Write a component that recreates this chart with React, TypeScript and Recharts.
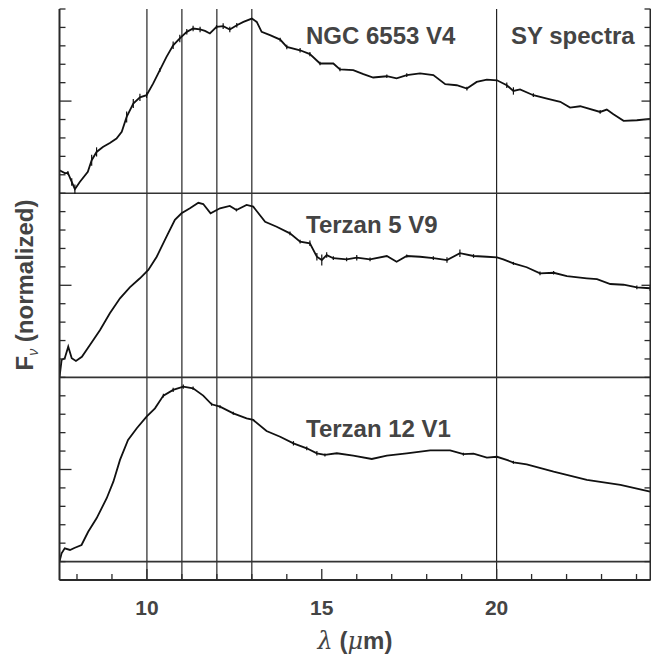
import React from 'react';
import { LineChart, Line, XAxis, YAxis, ReferenceLine, Label, ErrorBar } from 'recharts';

// ---------- data (wavelength in micron, flux in panel units 0..10) ----------
const ngcWave = [7.5, 7.65, 7.74, 7.85, 7.94, 8.08, 8.31, 8.42, 8.56, 8.74, 8.94, 9.13, 9.28, 9.42, 9.61, 9.8, 9.99, 10.18, 10.37, 10.56, 10.75, 10.94, 11.14, 11.32, 11.52, 11.66, 11.8, 11.99, 12.18, 12.37, 12.57, 12.76, 13.0, 13.14, 13.28, 13.52, 13.81, 14.0, 14.38, 14.66, 14.95, 15.33, 15.52, 15.9, 16.19, 16.47, 16.86, 17.14, 17.43, 17.81, 18.19, 18.53, 18.86, 19.15, 19.43, 19.72, 20.01, 20.29, 20.48, 20.67, 21.05, 21.44, 21.82, 22.1, 22.39, 22.96, 23.15, 23.34, 23.63, 24.01, 24.39];
const ngcFlux = [1.25, 1.09, 1.1, 0.61, 0.22, 0.61, 1.16, 1.79, 2.24, 2.51, 2.73, 2.97, 3.33, 4.14, 4.87, 5.2, 5.32, 5.96, 6.68, 7.4, 8.03, 8.4, 8.76, 8.94, 8.89, 8.81, 8.67, 9.03, 9.07, 8.89, 9.12, 9.3, 9.48, 9.3, 8.76, 8.58, 8.34, 7.94, 7.76, 7.55, 7.04, 7.04, 6.72, 6.68, 6.46, 6.28, 6.35, 6.23, 6.41, 6.5, 6.41, 5.92, 5.86, 5.68, 6.04, 6.17, 6.13, 5.86, 5.55, 5.63, 5.32, 5.14, 4.96, 4.65, 4.72, 4.41, 4.54, 4.29, 3.93, 3.96, 4.03];
const ngcErr = [0, 0, 0.1, 0.2, 0.25, 0, 0, 0.3, 0.25, 0, 0, 0, 0, 0.3, 0.25, 0.2, 0.15, 0, 0.1, 0, 0.2, 0.2, 0.15, 0.15, 0.15, 0, 0, 0.1, 0.15, 0.15, 0.12, 0, 0, 0, 0, 0, 0.1, 0.12, 0.12, 0.12, 0.1, 0, 0.1, 0, 0, 0, 0.1, 0, 0.1, 0, 0, 0, 0, 0.1, 0, 0, 0, 0.15, 0.2, 0, 0.1, 0, 0, 0, 0, 0.1, 0, 0, 0, 0, 0];

const ter5Wave = [7.5, 7.56, 7.65, 7.75, 7.85, 7.97, 8.14, 8.37, 8.66, 8.94, 9.23, 9.51, 9.8, 10.04, 10.28, 10.56, 10.8, 10.99, 11.23, 11.47, 11.61, 11.82, 12.09, 12.37, 12.56, 12.85, 13.04, 13.38, 13.71, 14.09, 14.38, 14.66, 14.86, 15.0, 15.14, 15.33, 15.71, 16.0, 16.38, 16.86, 17.14, 17.43, 17.81, 18.19, 18.58, 18.95, 19.34, 19.72, 20.01, 20.19, 20.48, 20.86, 21.24, 21.63, 22.01, 22.58, 22.87, 23.25, 23.63, 24.01, 24.39];
const ter5Flux = [0.0, 0.94, 1.04, 1.67, 1.04, 0.89, 1.12, 1.76, 2.57, 3.48, 4.29, 4.89, 5.38, 5.83, 6.55, 7.64, 8.55, 8.91, 9.18, 9.48, 9.41, 8.91, 9.18, 9.31, 9.09, 9.36, 9.27, 8.45, 8.18, 7.82, 7.37, 7.28, 6.55, 6.37, 6.64, 6.47, 6.41, 6.5, 6.41, 6.59, 6.28, 6.59, 6.55, 6.47, 6.37, 6.74, 6.59, 6.55, 6.52, 6.41, 6.19, 5.98, 5.65, 5.68, 5.5, 5.38, 5.33, 5.07, 5.03, 4.89, 4.84];
const ter5Err = [0, 0, 0, 0, 0, 0, 0, 0, 0, 0, 0, 0, 0, 0, 0, 0, 0, 0, 0, 0, 0, 0, 0, 0, 0.08, 0, 0, 0, 0, 0.1, 0.1, 0.15, 0.2, 0.3, 0.15, 0.1, 0.1, 0.15, 0.1, 0, 0, 0.08, 0, 0.1, 0.15, 0.2, 0.1, 0, 0, 0, 0.08, 0, 0.1, 0.1, 0, 0, 0, 0, 0, 0.1, 0.15];

const ter12Wave = [7.5, 7.56, 7.65, 7.8, 7.94, 8.13, 8.32, 8.56, 8.85, 9.04, 9.23, 9.46, 9.71, 9.99, 10.23, 10.47, 10.75, 11.04, 11.32, 11.61, 11.85, 12.09, 12.47, 12.85, 13.04, 13.42, 13.81, 14.19, 14.57, 14.86, 15.09, 15.43, 15.9, 16.43, 16.86, 17.43, 18.1, 18.67, 19.05, 19.34, 19.72, 20.01, 20.29, 20.48, 20.86, 21.63, 22.58, 23.54, 24.39];
const ter12Flux = [0.0, 0.45, 0.72, 0.63, 0.75, 0.9, 1.62, 2.35, 3.44, 4.34, 5.52, 6.6, 7.24, 7.87, 8.32, 9.01, 9.32, 9.5, 9.41, 9.01, 8.54, 8.41, 8.05, 7.78, 7.69, 7.09, 6.78, 6.42, 6.15, 5.88, 5.79, 5.88, 5.75, 5.57, 5.75, 5.88, 6.04, 6.04, 5.83, 5.86, 5.64, 5.69, 5.52, 5.39, 5.28, 4.88, 4.43, 4.16, 3.8];
const ter12Err = [0, 0, 0, 0, 0, 0, 0, 0, 0, 0, 0, 0, 0, 0, 0, 0.1, 0.12, 0.12, 0.1, 0, 0.08, 0.08, 0.08, 0, 0, 0, 0, 0.12, 0.1, 0.12, 0.08, 0, 0, 0, 0, 0, 0, 0, 0.08, 0, 0, 0, 0, 0.08, 0, 0, 0, 0, 0];

const xTicks = [8, 9, 10, 11, 12, 13, 14, 15, 16, 17, 18, 19, 20, 21, 22, 23, 24];
const xLabelTicks = [10, 15, 20];
const featureLines = [10, 11, 12, 13, 20];
const yTicks = Array.from({ length: 32 }, (_, i) => i);
const yMajorTicks = [6, 16, 26];
const panelBounds = [1, 11, 21];

const panelLabels = ['NGC 6553 V4', 'Terzan 5 V9', 'Terzan 12 V1'];
const cornerLabel = 'SY spectra';

const toRows = (w: number[], f: number[], e: number[]) => w.map((wave, i) => ({ wave, flux: f[i], err: e[i] }));
const ngcData = toRows(ngcWave, ngcFlux, ngcErr);
const ter5Data = toRows(ter5Wave, ter5Flux, ter5Err);
const ter12Data = toRows(ter12Wave, ter12Flux, ter12Err);

const FRAME = '#2a2a2a';
const TEXT = '#444444';
const FONT = '"Liberation Sans", Arial, Helvetica, sans-serif';

const BottomTick = (props: any) => {
  const { x, y, payload } = props;
  const major = xLabelTicks.includes(payload.value);
  return (
    <g>
      <line x1={x} x2={x} y1={y} y2={y - (major ? 11 : 6)} stroke={FRAME} strokeWidth={1.3} />
      {major && (
        <text x={x} y={y + 35} textAnchor="middle" fontFamily={FONT} fontWeight="bold" fontSize={21} fill={TEXT}>
          {payload.value}
        </text>
      )}
    </g>
  );
};

const TopTick = (props: any) => {
  const { x, y, payload } = props;
  const major = xLabelTicks.includes(payload.value);
  return <line x1={x} x2={x} y1={y} y2={y + (major ? 9 : 6)} stroke={FRAME} strokeWidth={1.3} />;
};

const LeftTick = (props: any) => {
  const { x, y, payload } = props;
  const major = yMajorTicks.includes(payload.value);
  return <line x1={x} x2={x + (major ? 12 : 6)} y1={y} y2={y} stroke={FRAME} strokeWidth={1.3} />;
};

const RightTick = (props: any) => {
  const { x, y, payload } = props;
  const major = yMajorTicks.includes(payload.value);
  return <line x1={x} x2={x - (major ? 9 : 6)} y1={y} y2={y} stroke={FRAME} strokeWidth={1.3} />;
};

const XTitle = (props: any) => {
  const { viewBox } = props;
  const cx = viewBox.x + viewBox.width / 2;
  const y = viewBox.y + 69;
  return (
    <text x={cx} y={y} textAnchor="middle" fontFamily={FONT} fontSize={24} fill={TEXT}>
      <tspan fontStyle="italic" fontFamily='"DejaVu Serif", serif'>λ</tspan>
      <tspan fontWeight="bold"> (</tspan>
      <tspan fontStyle="italic" fontFamily='"DejaVu Serif", serif'>μ</tspan>
      <tspan fontWeight="bold">m)</tspan>
    </text>
  );
};

const YTitle = () => {
  return (
    <text x={33} y={285} transform="rotate(-90 33 285)" textAnchor="middle" fontFamily={FONT} fontWeight="bold" fontSize={24} fill={TEXT}>
      <tspan>F</tspan>
      <tspan fontSize={14} fontStyle="italic" fontWeight="normal" dy={5}>ν</tspan>
      <tspan dy={-5}> (normalized)</tspan>
    </text>
  );
};

const labelStyle = { fontFamily: FONT, fontWeight: 'bold' as const, fontSize: 24, fill: TEXT };

export default function App() {
  return (
    <div style={{ position: 'absolute', left: 0, top: 0, width: 651, height: 661, background: '#fff' }}>
      <LineChart width={651} height={661} margin={{ top: 9, right: 0, bottom: 0, left: 0 }}>
        <XAxis
          xAxisId="b"
          dataKey="wave"
          type="number"
          domain={[7.5, 24.4]}
          ticks={xTicks}
          allowDataOverflow
          interval={0}
          height={81}
          tickSize={0}
          tickMargin={0}
          tickLine={false}
          tick={<BottomTick />}
          axisLine={{ stroke: FRAME, strokeWidth: 2 }}
        >
          <Label content={<XTitle />} />
        </XAxis>
        <XAxis
          xAxisId="t"
          orientation="top"
          dataKey="wave"
          type="number"
          domain={[7.5, 24.4]}
          ticks={xTicks}
          allowDataOverflow
          interval={0}
          height={0}
          tickSize={0}
          tickMargin={0}
          tickLine={false}
          tick={<TopTick />}
          axisLine={{ stroke: FRAME, strokeWidth: 2 }}
        />
        <YAxis
          yAxisId="frame"
          type="number"
          domain={[0, 31]}
          ticks={yTicks}
          interval={0}
          allowDataOverflow
          width={59.5}
          tickSize={0}
          tickMargin={0}
          tickLine={false}
          tick={<LeftTick />}
          axisLine={{ stroke: FRAME, strokeWidth: 2 }}
        />
        <YAxis
          yAxisId="frameR"
          orientation="right"
          type="number"
          domain={[0, 31]}
          ticks={yTicks}
          interval={0}
          allowDataOverflow
          width={0.5}
          tickSize={0}
          tickMargin={0}
          tickLine={false}
          tick={<RightTick />}
          axisLine={{ stroke: FRAME, strokeWidth: 2 }}
        />
        <YAxis yAxisId="p1" hide type="number" domain={[-21, 10]} allowDataOverflow />
        <YAxis yAxisId="p2" hide type="number" domain={[-11, 20]} allowDataOverflow />
        <YAxis yAxisId="p3" hide type="number" domain={[-1, 30]} allowDataOverflow />

        {featureLines.map((v) => (
          <ReferenceLine key={'v' + v} xAxisId="b" yAxisId="frame" x={v} stroke="#111" strokeWidth={1.1} />
        ))}
        {panelBounds.map((v) => (
          <ReferenceLine key={'h' + v} xAxisId="b" yAxisId="frame" y={v} stroke="#333" strokeWidth={1.6} />
        ))}

        <Line xAxisId="b" yAxisId="p1" data={ngcData} dataKey="flux" type="linear" stroke="#111" strokeWidth={1.8} dot={false} isAnimationActive={false}>
          <ErrorBar dataKey="err" width={0} stroke="#111" strokeWidth={1.2} direction="y" />
        </Line>
        <Line xAxisId="b" yAxisId="p2" data={ter5Data} dataKey="flux" type="linear" stroke="#111" strokeWidth={1.8} dot={false} isAnimationActive={false}>
          <ErrorBar dataKey="err" width={0} stroke="#111" strokeWidth={1.2} direction="y" />
        </Line>
        <Line xAxisId="b" yAxisId="p3" data={ter12Data} dataKey="flux" type="linear" stroke="#111" strokeWidth={1.8} dot={false} isAnimationActive={false}>
          <ErrorBar dataKey="err" width={0} stroke="#111" strokeWidth={1.2} direction="y" />
        </Line>

        <text x={306} y={44} {...labelStyle}>{panelLabels[0]}</text>
        <text x={511} y={44} {...labelStyle}>{cornerLabel}</text>
        <text x={306} y={233} {...labelStyle}>{panelLabels[1]}</text>
        <text x={306} y={437} {...labelStyle}>{panelLabels[2]}</text>
        <YTitle />
      </LineChart>
    </div>
  );
}
